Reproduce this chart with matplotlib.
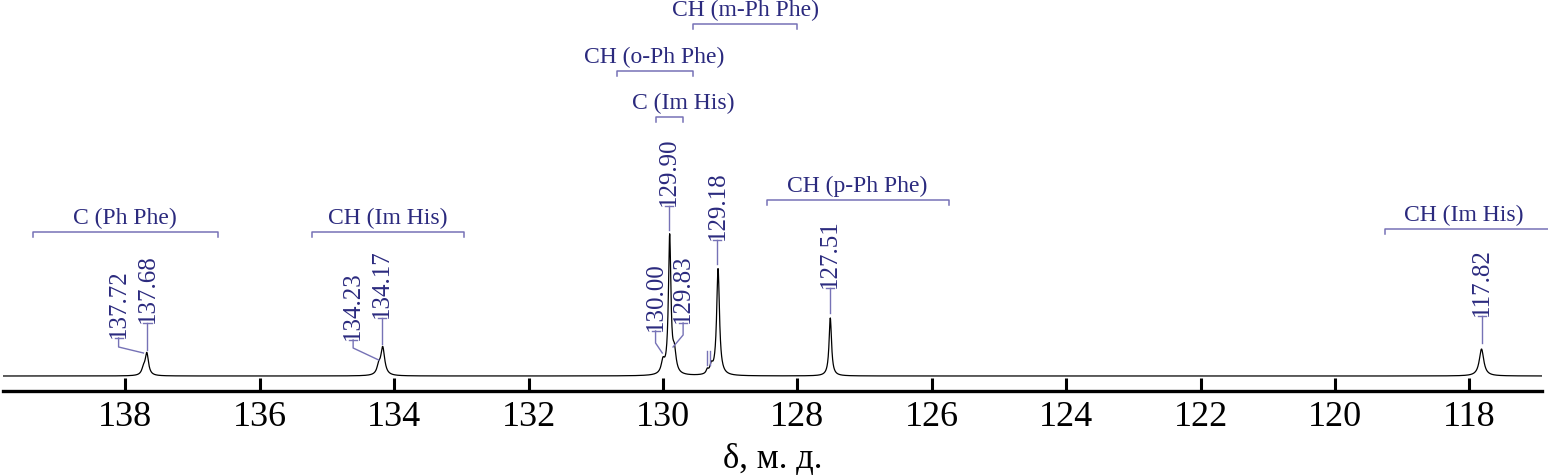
import numpy as np
import matplotlib
matplotlib.use("Agg")
import matplotlib.pyplot as plt

plt.rcParams["font.family"] = ["Liberation Serif", "DejaVu Serif"]

# -----------------------------------------------------------------------------
# Data (ppm, heights in plot units above the baseline)
# -----------------------------------------------------------------------------
peak_ppm = [137.73, 137.68, 134.23, 134.17, 130.00, 129.90, 129.83,
            129.34, 129.28, 129.18, 127.51, 117.82]
peak_height = [6, 22, 8, 28, 12, 138, 20, 4, 8, 107, 58, 27]
peak_hwhm = [0.03, 0.03, 0.03, 0.035, 0.03, 0.022, 0.03,
             0.02, 0.025, 0.025, 0.022, 0.04]
baseline = 15

# peak labels: text, label ppm, text bottom, elbow height, target ppm, target height
label_text = ["137.72", "137.68", "134.23", "134.17", "130.00", "129.90",
              "129.83", "129.18", "127.51", "117.82"]
label_ppm = [138.10, 137.67, 134.61, 134.18, 130.11, 129.91,
             129.70, 129.19, 127.51, 117.81]
label_bottom = [51, 66, 49, 71, 58, 183, 66, 149, 101, 73]
label_elbow = [44, 41, 43, 47, 48, 161, 56, 127, 78, 48]
target_ppm = [137.73, 137.67, 134.23, 134.18, 130.01, 129.91,
              129.85, 129.19, 127.51, 117.81]
target_y = [38, 41, 31, 47, 38, 161, 44, 127, 78, 48]

# group brackets: text, left ppm, right ppm, text ppm, bracket height
group_text = ["C (Ph Phe)", "CH (Im His)", "C (Im His)", "CH (o-Ph Phe)",
              "CH (m-Ph Phe)", "CH (p-Ph Phe)", "CH (Im His)"]
group_left = [139.38, 135.22, 130.10, 130.69, 129.55, 128.45, 119.25]
group_right = [136.62, 132.96, 129.70, 129.55, 128.00, 125.74, 116.70]
group_center = [138.00, 134.09, 129.70, 130.13, 128.77, 127.11, 118.09]
group_y = [159, 159, 274, 320, 367, 191, 162]

# tiny marks left of 129.18
mark_ppm = [129.345, 129.30]

tick_values = [138, 136, 134, 132, 130, 128, 126, 124, 122, 120, 118]

TEXT_COLOR = "#2b2a7e"
LINE_COLOR = "#7672b6"

# -----------------------------------------------------------------------------
# Plot
# -----------------------------------------------------------------------------
fig = plt.figure(figsize=(15.48, 4.76), dpi=100)
ax = fig.add_axes([3 / 1548, 85 / 476, 1539 / 1548, 391 / 476])

ppm = np.linspace(139.82, 116.92, 8000)
spectrum = np.full_like(ppm, baseline, dtype=float)
for p, h, w in zip(peak_ppm, peak_height, peak_hwhm):
    spectrum += h / (1 + ((ppm - p) / w) ** 2)

ax.plot(ppm, spectrum, color="black", lw=0.9)

ax.set_xlim(139.82, 116.92)
ax.set_ylim(0, 391)

for side in ["top", "left", "right"]:
    ax.spines[side].set_visible(False)
ax.spines["bottom"].set_linewidth(2.4)
ax.set_yticks([])
ax.set_xticks(tick_values)
ax.set_xticklabels([str(t) for t in tick_values])
ax.tick_params(axis="x", direction="in", length=9.5, width=2.2,
               labelsize=26, pad=7)
ax.set_xlabel("δ, м. д.", fontsize=25, labelpad=7)

# peak labels with leader lines
for txt, lx, lb, le, tx, ty in zip(label_text, label_ppm, label_bottom,
                                   label_elbow, target_ppm, target_y):
    ax.text(lx, lb + 2, txt, rotation=90, ha="center", va="bottom",
            fontsize=18, color=TEXT_COLOR)
    ax.plot([lx, lx, tx], [lb + 2, le, ty], color=LINE_COLOR, lw=1.0,
            clip_on=False)
    ax.plot([lx - 0.06, lx + 0.06], [lb + 2, lb + 2], color=LINE_COLOR,
            lw=1.0, clip_on=False)

# group brackets
for txt, gl, gr, gc, gy in zip(group_text, group_left, group_right,
                               group_center, group_y):
    ax.plot([gl, gl, gr, gr], [gy - 5, gy, gy, gy - 5], color=LINE_COLOR,
            lw=1.1, clip_on=False)
    ax.text(gc, gy + 3, txt, ha="center", va="bottom", fontsize=17,
            color=TEXT_COLOR, clip_on=False)

for m in mark_ppm:
    ax.plot([m, m], [26, 40], color=LINE_COLOR, lw=1.0)

fig.savefig("out.png", dpi=100)
